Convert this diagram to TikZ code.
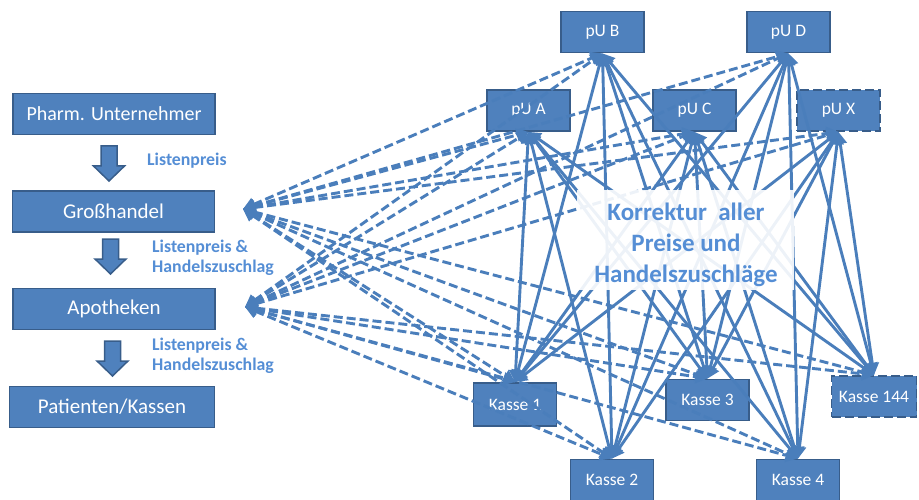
\documentclass[tikz,border=0pt]{standalone}
\usepackage{fontspec}
\setmainfont{Carlito}
\usetikzlibrary{arrows.meta}
\definecolor{boxfill}{RGB}{79,129,189}
\definecolor{boxline}{RGB}{56,93,138}
\definecolor{connc}{RGB}{74,126,187}
\definecolor{lblc}{RGB}{85,142,213}
\begin{document}
\begin{tikzpicture}[x=1pt,y=-1pt,
  box/.style={draw=boxline, fill=boxfill, line width=1.8pt, text=white, inner sep=0pt, minimum height=41pt},
  lbox/.style={box, minimum width=202pt, font=\fontsize{20}{24}\selectfont},
  rbox/.style={box, minimum width=83pt, font=\fontsize{17.5}{20}\selectfont},
  dbox/.style={rbox, dash pattern=on 9pt off 4pt},
  lab/.style={text=lblc, font=\bfseries\fontsize{17.8}{20}\selectfont, inner sep=0pt, align=left, anchor=west},
  barrow/.style={draw=boxline, fill=boxfill, line width=1.5pt, line join=miter},
  link/.style={draw=connc, line width=2.9pt, arrows={Triangle[length=12pt,width=13pt]-Triangle[length=12pt,width=13pt]}},
  dlink/.style={link, dash pattern=on 9pt off 4pt}
]
\useasboundingbox (0,0) rectangle (919,500);

% left column
\node[lbox] (ph) at (114,114) {Pharm. Unternehmer};
\node[lbox, font=\fontsize{21}{24}\selectfont] (gh) at (113.5,211.5) {Großhandel};
\node[lbox, font=\fontsize{21}{24}\selectfont] (ap) at (114,309) {Apotheken};
\node[lbox, font=\fontsize{21}{24}\selectfont, minimum width=205pt] (pk) at (112,407) {Patienten/Kassen};

\foreach \xc/\yt in {109/146, 110.5/239, 112.5/341}
  \draw[barrow] (\xc-8,\yt) -- (\xc+8,\yt) -- (\xc+8,\yt+20) -- (\xc+15.5,\yt+20)
     -- (\xc,\yt+35) -- (\xc-15.5,\yt+20) -- (\xc-8,\yt+20) -- cycle;

\node[lab] (l1) at (147,161) {Listenpreis};
\node[lab] (l2) at (152,258) {Listenpreis \&\\Handelszuschlag};
\node[lab] (l3) at (152,356) {Listenpreis \&\\Handelszuschlag};

% right nodes
\node[rbox] (pUB) at (602.5,32) {pU B};
\node[rbox] (pUD) at (788.5,32) {pU D};
\node[rbox] (pUA) at (528.5,110.5) {pU A};
\node[rbox] (pUC) at (694.5,110.5) {pU C};
\node[dbox] (pUX) at (838.5,110.5) {pU X};
\node[rbox, minimum height=43pt] (K1) at (515,404.5) {Kasse 1};
\node[rbox] (K3) at (707.5,400) {Kasse 3};
\node[dbox, minimum width=85pt] (K144) at (874,396.5) {Kasse 144};
\node[rbox] (K2) at (612,480) {Kasse 2};
\node[rbox] (K4) at (798,480) {Kasse 4};

\coordinate (gt) at (243,209);
\coordinate (at) at (245,307);

% connectors
\foreach \p in {pUA,pUB,pUC,pUD,pUX}
  \foreach \k in {K1,K2,K3,K4,K144}
    \draw[link] (\p.south) -- (\k.north);
\foreach \t in {gt,at}{
  \foreach \p in {pUA,pUB,pUC,pUD,pUX}
    \draw[dlink] (\t) -- (\p.south);
  \foreach \k in {K1,K2,K3,K4,K144}
    \draw[dlink] (\t) -- (\k.north);
}

% central note
\node[fill=white, fill opacity=0.9, minimum width=217pt, minimum height=100pt, inner sep=0pt]
  (corr) at (685.5,240) {};
\node[inner sep=0pt, align=center, text=lblc, font=\bfseries\fontsize{25}{31}\selectfont]
  (corrtxt) at (686,245) {Korrektur\ \ aller\\Preise und\\Handelszuschläge};
\end{tikzpicture}
\end{document}
